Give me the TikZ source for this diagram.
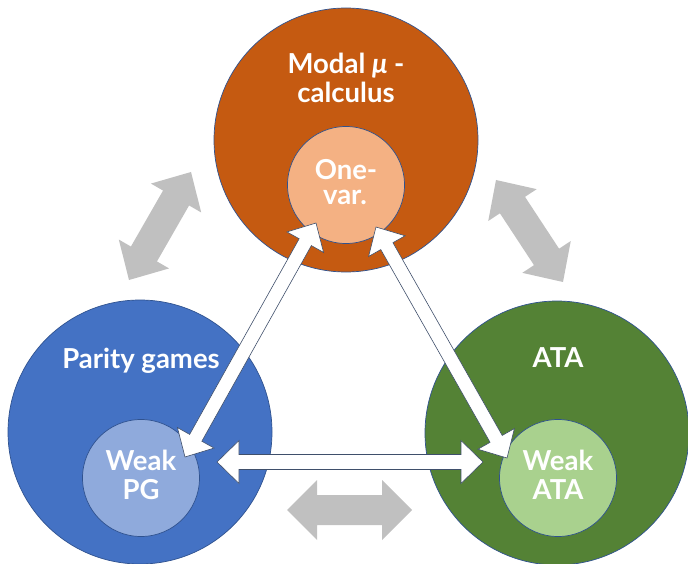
\documentclass[tikz,border=0pt]{standalone}
\usepackage{fontspec}
\setmainfont{Lato}
\usetikzlibrary{calc}
\definecolor{cOrange}{HTML}{C55A11}
\definecolor{cOrangeL}{HTML}{F4B183}
\definecolor{cBlue}{HTML}{4472C4}
\definecolor{cBlueL}{HTML}{8FAADC}
\definecolor{cGreen}{HTML}{548235}
\definecolor{cGreenL}{HTML}{A9D18E}
\definecolor{cLine}{HTML}{2F528F}
\definecolor{cGray}{HTML}{C0C0C0}
\definecolor{cArrLine}{HTML}{3F4F6B}
\newcommand{\myfatarrow}[6]{%
  \coordinate (tmpa) at ($(#2)!#4!(#3)$);
  \coordinate (tmpb) at ($(#3)!#4!(#2)$);
  \path[#1] (#2) -- ($(tmpa)!#5!90:(#3)$) -- ($(tmpa)!#6!90:(#3)$)
    -- ($(tmpb)!#6!-90:(#2)$) -- ($(tmpb)!#5!-90:(#2)$) -- (#3)
    -- ($(tmpb)!#5!90:(#2)$) -- ($(tmpb)!#6!90:(#2)$)
    -- ($(tmpa)!#6!-90:(#3)$) -- ($(tmpa)!#5!-90:(#3)$) -- cycle;
}
\tikzset{
  bigc/.style={circle, inner sep=0pt, minimum size=264pt, draw=cLine, line width=0.7pt},
  smallc/.style={circle, inner sep=0pt, minimum size=117pt, draw=cLine, line width=0.7pt},
  lbl/.style={anchor=base, text=white, font=\fontsize{27.5}{31}\selectfont\bfseries, inner sep=0pt},
  whitearr/.style={fill=white, draw=cArrLine, line width=0.6pt, line join=miter},
  grayarr/.style={fill=cGray},
}
\begin{document}
\begin{tikzpicture}[x=1pt,y=-1pt]
\useasboundingbox (0,0) rectangle (688,564);
% big circles
\node[bigc, fill=cOrange] (mu) at (346,140) {};
\node[bigc, fill=cBlue] (pg) at (140,432) {};
\node[bigc, fill=cGreen] (ata) at (557,433) {};
% inner circles
\node[smallc, fill=cOrangeL] (onevar) at (346,185) {};
\node[smallc, fill=cBlueL] (wpg) at (141,478) {};
\node[smallc, fill=cGreenL] (wata) at (558,478) {};
% labels
\node[lbl] (mut1) at (346,74) {Modal \textit{μ} -};
\node[lbl] (mut2) at (346,103) {calculus};
\node[lbl] (ovt1) at (346,180) {One-};
\node[lbl] (ovt2) at (345,205) {var.};
\node[lbl] (pgt) at (141,368) {Parity games};
\node[lbl] (wpgt1) at (141,470) {Weak};
\node[lbl] (wpgt2) at (141,499) {PG};
\node[lbl] (atat) at (558,367) {ATA};
\node[lbl] (watat1) at (558,470) {Weak};
\node[lbl] (watat2) at (558,499) {ATA};
% gray arrows
\coordinate (g1a) at (191,172);
\coordinate (g1b) at (129,280);
\coordinate (g2a) at (496,180);
\coordinate (g2b) at (563,282);
\coordinate (g3a) at (287,510);
\coordinate (g3b) at (412,510);
\myfatarrow{grayarr}{g1a}{g1b}{30pt}{29pt}{15pt}
\myfatarrow{grayarr}{g2a}{g2b}{30pt}{29pt}{15pt}
\myfatarrow{grayarr}{g3a}{g3b}{30pt}{30pt}{15pt}
% white arrows
\coordinate (w1a) at (185,457);
\coordinate (w1b) at (316,223);
\coordinate (w2a) at (376,227);
\coordinate (w2b) at (507,458);
\coordinate (w3a) at (217,462);
\coordinate (w3b) at (483,462);
\myfatarrow{whitearr}{w1a}{w1b}{22pt}{21pt}{7pt}
\myfatarrow{whitearr}{w2a}{w2b}{22pt}{21pt}{7pt}
\myfatarrow{whitearr}{w3a}{w3b}{22pt}{21.5pt}{7.5pt}
\end{tikzpicture}
\end{document}
